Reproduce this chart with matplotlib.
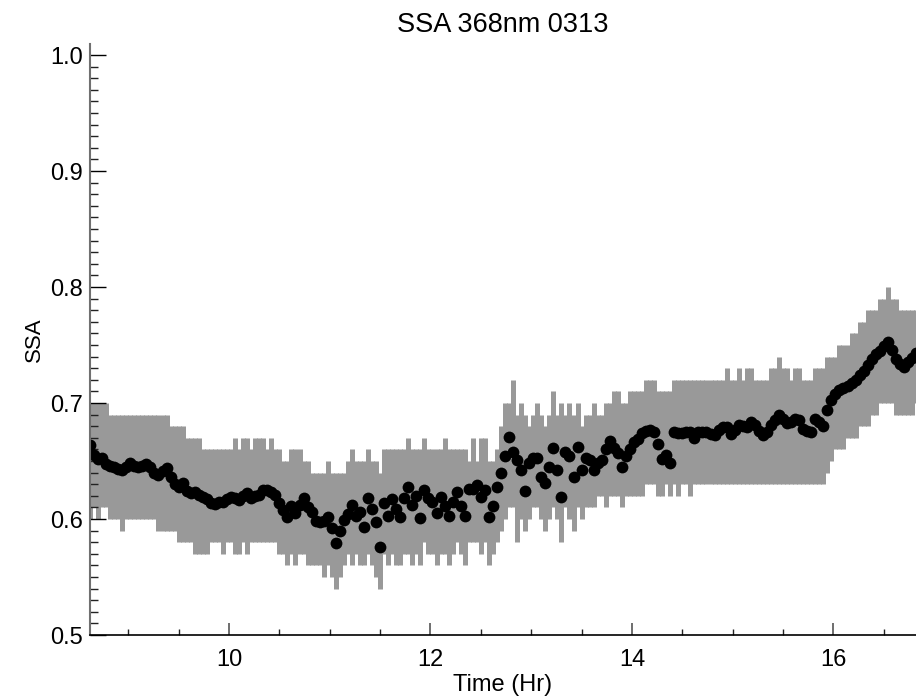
import numpy as np
import matplotlib
matplotlib.use('Agg')
import matplotlib.pyplot as plt
from matplotlib.ticker import MultipleLocator

plt.rcParams['font.family'] = ['Liberation Sans', 'DejaVu Sans']

# time of day (hours)
time_hr = [
    8.62, 8.66, 8.70, 8.74, 8.78, 8.82, 8.86, 8.90, 8.94, 8.98,
    9.02, 9.06, 9.10, 9.14, 9.18, 9.22, 9.26, 9.30, 9.34, 9.38,
    9.42, 9.46, 9.50, 9.54, 9.58, 9.62, 9.66, 9.70, 9.74, 9.78,
    9.82, 9.86, 9.90, 9.94, 9.98, 10.02, 10.06, 10.10, 10.14, 10.18,
    10.22, 10.26, 10.30, 10.34, 10.38, 10.42, 10.46, 10.50, 10.54, 10.58,
    10.62, 10.66, 10.70, 10.74, 10.78, 10.82, 10.86, 10.90, 10.94, 10.98,
    11.02, 11.06, 11.10, 11.14, 11.18, 11.22, 11.26, 11.30, 11.34, 11.38,
    11.42, 11.46, 11.50, 11.54, 11.58, 11.62, 11.66, 11.70, 11.74, 11.78,
    11.82, 11.86, 11.90, 11.94, 11.98, 12.02, 12.06, 12.10, 12.14, 12.18,
    12.22, 12.26, 12.30, 12.34, 12.38, 12.42, 12.46, 12.50, 12.54, 12.58,
    12.62, 12.66, 12.70, 12.74, 12.78, 12.82, 12.86, 12.90, 12.94, 12.98,
    13.02, 13.06, 13.10, 13.14, 13.18, 13.22, 13.26, 13.30, 13.34, 13.38,
    13.42, 13.46, 13.50, 13.54, 13.58, 13.62, 13.66, 13.70, 13.74, 13.78,
    13.82, 13.86, 13.90, 13.94, 13.98, 14.02, 14.06, 14.10, 14.14, 14.18,
    14.22, 14.26, 14.30, 14.34, 14.38, 14.42, 14.46, 14.50, 14.54, 14.58,
    14.62, 14.66, 14.70, 14.74, 14.78, 14.82, 14.86, 14.90, 14.94, 14.98,
    15.02, 15.06, 15.10, 15.14, 15.18, 15.22, 15.26, 15.30, 15.34, 15.38,
    15.42, 15.46, 15.50, 15.54, 15.58, 15.62, 15.66, 15.70, 15.74, 15.78,
    15.82, 15.86, 15.90, 15.94, 15.98, 16.02, 16.06, 16.10, 16.14, 16.18,
    16.22, 16.26, 16.30, 16.34, 16.38, 16.42, 16.46, 16.50, 16.54, 16.58,
    16.62, 16.66, 16.70, 16.74, 16.78, 16.82,
]

# single scattering albedo at 368nm
ssa = [
    0.664, 0.655, 0.652, 0.653, 0.647, 0.646, 0.645, 0.643, 0.642, 0.645,
    0.648, 0.646, 0.645, 0.646, 0.647, 0.645, 0.640, 0.638, 0.641, 0.644,
    0.636, 0.630, 0.628, 0.631, 0.624, 0.622, 0.623, 0.621, 0.619, 0.617,
    0.614, 0.613, 0.615, 0.615, 0.617, 0.619, 0.618, 0.616, 0.620, 0.622,
    0.618, 0.620, 0.621, 0.625, 0.625, 0.623, 0.621, 0.614, 0.608, 0.602,
    0.611, 0.605, 0.612, 0.618, 0.610, 0.606, 0.598, 0.597, 0.598, 0.602,
    0.592, 0.579, 0.590, 0.599, 0.604, 0.612, 0.603, 0.606, 0.593, 0.618,
    0.609, 0.597, 0.576, 0.614, 0.603, 0.617, 0.609, 0.602, 0.618, 0.628,
    0.612, 0.620, 0.601, 0.625, 0.618, 0.615, 0.605, 0.619, 0.611, 0.603,
    0.615, 0.623, 0.611, 0.603, 0.626, 0.626, 0.629, 0.619, 0.625, 0.602,
    0.611, 0.628, 0.640, 0.654, 0.671, 0.658, 0.651, 0.642, 0.624, 0.648,
    0.653, 0.653, 0.636, 0.631, 0.645, 0.661, 0.642, 0.619, 0.658, 0.654,
    0.636, 0.662, 0.642, 0.653, 0.651, 0.642, 0.648, 0.651, 0.660, 0.667,
    0.661, 0.657, 0.645, 0.654, 0.660, 0.666, 0.669, 0.674, 0.676, 0.677,
    0.675, 0.665, 0.652, 0.655, 0.648, 0.675, 0.674, 0.674, 0.675, 0.675,
    0.670, 0.675, 0.675, 0.675, 0.673, 0.672, 0.677, 0.679, 0.679, 0.673,
    0.677, 0.681, 0.680, 0.679, 0.684, 0.681, 0.676, 0.672, 0.675, 0.681,
    0.685, 0.690, 0.686, 0.683, 0.684, 0.686, 0.685, 0.678, 0.676, 0.675,
    0.686, 0.684, 0.680, 0.694, 0.703, 0.708, 0.711, 0.713, 0.715, 0.717,
    0.720, 0.724, 0.728, 0.733, 0.738, 0.742, 0.745, 0.749, 0.753, 0.746,
    0.738, 0.734, 0.731, 0.735, 0.739, 0.743,
]

# upper end of the uncertainty bar
ssa_hi = [
    0.70, 0.70, 0.70, 0.70, 0.70, 0.69, 0.69, 0.69, 0.69, 0.69,
    0.69, 0.69, 0.69, 0.69, 0.69, 0.69, 0.69, 0.69, 0.69, 0.69,
    0.68, 0.68, 0.68, 0.68, 0.67, 0.67, 0.67, 0.67, 0.66, 0.66,
    0.66, 0.66, 0.66, 0.66, 0.66, 0.66, 0.67, 0.66, 0.67, 0.67,
    0.66, 0.67, 0.67, 0.67, 0.66, 0.67, 0.66, 0.66, 0.65, 0.65,
    0.66, 0.66, 0.66, 0.65, 0.65, 0.64, 0.64, 0.64, 0.64, 0.65,
    0.64, 0.64, 0.64, 0.64, 0.65, 0.66, 0.65, 0.65, 0.65, 0.66,
    0.65, 0.65, 0.64, 0.66, 0.66, 0.66, 0.66, 0.66, 0.66, 0.67,
    0.66, 0.66, 0.66, 0.67, 0.66, 0.66, 0.66, 0.66, 0.67, 0.66,
    0.66, 0.66, 0.66, 0.66, 0.65, 0.67, 0.65, 0.67, 0.67, 0.65,
    0.65, 0.66, 0.68, 0.70, 0.70, 0.72, 0.69, 0.70, 0.69, 0.68,
    0.69, 0.70, 0.69, 0.68, 0.69, 0.71, 0.69, 0.70, 0.69, 0.70,
    0.69, 0.70, 0.68, 0.69, 0.69, 0.70, 0.69, 0.69, 0.70, 0.70,
    0.71, 0.71, 0.70, 0.70, 0.71, 0.71, 0.71, 0.71, 0.72, 0.72,
    0.72, 0.71, 0.71, 0.71, 0.71, 0.72, 0.72, 0.72, 0.72, 0.72,
    0.72, 0.72, 0.72, 0.72, 0.72, 0.72, 0.72, 0.72, 0.73, 0.72,
    0.72, 0.73, 0.72, 0.73, 0.73, 0.72, 0.72, 0.72, 0.72, 0.73,
    0.73, 0.74, 0.73, 0.73, 0.72, 0.73, 0.73, 0.72, 0.72, 0.72,
    0.73, 0.73, 0.73, 0.74, 0.74, 0.74, 0.75, 0.75, 0.75, 0.76,
    0.76, 0.77, 0.77, 0.78, 0.78, 0.78, 0.79, 0.79, 0.80, 0.79,
    0.79, 0.78, 0.78, 0.78, 0.78, 0.78,
]

# lower end of the uncertainty bar
ssa_lo = [
    0.60, 0.61, 0.60, 0.61, 0.61, 0.60, 0.60, 0.60, 0.59, 0.60,
    0.60, 0.60, 0.60, 0.60, 0.60, 0.60, 0.60, 0.59, 0.59, 0.59,
    0.59, 0.59, 0.58, 0.58, 0.58, 0.58, 0.57, 0.57, 0.57, 0.57,
    0.58, 0.58, 0.58, 0.57, 0.58, 0.58, 0.57, 0.57, 0.58, 0.57,
    0.58, 0.58, 0.58, 0.58, 0.58, 0.58, 0.58, 0.57, 0.57, 0.56,
    0.57, 0.56, 0.57, 0.57, 0.56, 0.56, 0.56, 0.56, 0.55, 0.56,
    0.55, 0.54, 0.55, 0.56, 0.57, 0.56, 0.57, 0.56, 0.56, 0.57,
    0.56, 0.55, 0.54, 0.57, 0.56, 0.57, 0.56, 0.56, 0.57, 0.57,
    0.56, 0.57, 0.56, 0.58, 0.57, 0.57, 0.56, 0.57, 0.57, 0.56,
    0.57, 0.58, 0.57, 0.56, 0.58, 0.58, 0.58, 0.57, 0.58, 0.56,
    0.57, 0.58, 0.59, 0.60, 0.61, 0.61, 0.58, 0.60, 0.59, 0.60,
    0.61, 0.61, 0.60, 0.59, 0.60, 0.61, 0.60, 0.58, 0.61, 0.60,
    0.59, 0.61, 0.60, 0.61, 0.61, 0.61, 0.62, 0.62, 0.61, 0.62,
    0.62, 0.62, 0.61, 0.62, 0.62, 0.62, 0.62, 0.62, 0.63, 0.63,
    0.63, 0.62, 0.62, 0.63, 0.62, 0.63, 0.62, 0.63, 0.63, 0.62,
    0.63, 0.63, 0.63, 0.63, 0.63, 0.63, 0.63, 0.63, 0.63, 0.63,
    0.63, 0.63, 0.63, 0.63, 0.63, 0.63, 0.63, 0.63, 0.63, 0.63,
    0.63, 0.63, 0.63, 0.63, 0.63, 0.63, 0.63, 0.63, 0.63, 0.63,
    0.63, 0.63, 0.63, 0.64, 0.65, 0.66, 0.66, 0.66, 0.67, 0.67,
    0.67, 0.68, 0.68, 0.68, 0.69, 0.69, 0.70, 0.70, 0.70, 0.70,
    0.69, 0.69, 0.69, 0.69, 0.69, 0.70,
]


def plot_ssa(t, y, lo, hi):
    fig = plt.figure(figsize=(9.16, 6.99), dpi=100)
    ax = fig.add_axes([90 / 916, 1 - 635 / 699, 826 / 916, 591 / 699])

    # error bars first, dots on top
    ax.vlines(t, lo, hi, colors='#999999', linewidth=3.6, zorder=1)
    ax.plot(t, y, 'o', color='black', markersize=8.5, markeredgewidth=0, zorder=2)

    ax.set_xlim(8.62, 16.82)
    ax.set_ylim(0.5, 1.0095)

    ax.xaxis.set_major_locator(MultipleLocator(2))
    ax.xaxis.set_minor_locator(MultipleLocator(0.5))
    ax.yaxis.set_major_locator(MultipleLocator(0.1))
    ax.yaxis.set_minor_locator(MultipleLocator(0.01))
    ax.yaxis.set_major_formatter(plt.FormatStrFormatter('%.1f'))

    ax.tick_params(axis='x', which='major', direction='in', length=8.6, width=1.2,
                   color='#555555', labelsize=17, pad=10)
    ax.tick_params(axis='x', which='minor', direction='in', length=4.3, width=1.0, color='#222222')
    ax.tick_params(axis='y', which='major', direction='in', length=11.5, width=1.0,
                   color='black', labelsize=17, pad=5)
    ax.tick_params(axis='y', which='minor', direction='in', length=5.8, width=1.0, color='#222222')

    ax.spines['top'].set_visible(False)
    ax.spines['right'].set_visible(False)
    ax.spines['left'].set_color('#707070')
    ax.spines['left'].set_linewidth(1.5)
    ax.spines['bottom'].set_color('black')
    ax.spines['bottom'].set_linewidth(1.2)

    ax.set_title('SSA 368nm 0313', fontsize=19.5, pad=9)
    ax.set_xlabel('Time (Hr)', fontsize=17, labelpad=2)
    ax.set_ylabel('SSA', fontsize=16, labelpad=4)

    fig.savefig('out.png', dpi=100)


def main():
    assert len(time_hr) == len(ssa) == len(ssa_hi) == len(ssa_lo)
    plot_ssa(time_hr, ssa, ssa_lo, ssa_hi)


if __name__ == '__main__':
    main()
